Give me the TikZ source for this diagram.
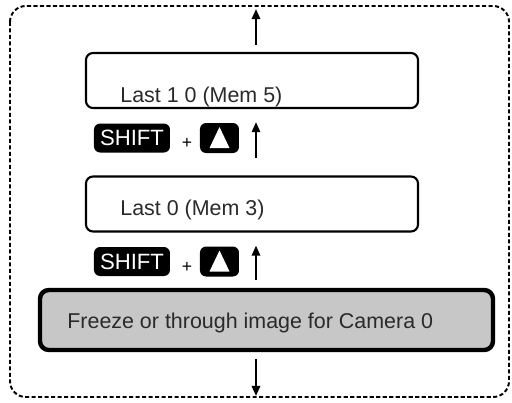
\documentclass[tikz,border=0pt]{standalone}
\usepackage{fontspec}
\setmainfont{Liberation Sans}
\usetikzlibrary{arrows.meta}
\definecolor{txtGray}{HTML}{2A2A2A}

\begin{document}
\begin{tikzpicture}[
  x=0.02cm, y=-0.02cm,
  memo/.style={draw, rounded corners=4pt, line width=1.2pt, minimum width=332*0.02cm, minimum height=55*0.02cm, inner sep=0pt},
  live/.style={draw, rounded corners=5pt, line width=2.5pt, fill=black!22, minimum width=453*0.02cm, minimum height=60*0.02cm, inner sep=0pt},
  lbl/.style={font=\fontsize{12.2}{14}\selectfont, text=txtGray, anchor=west, inner sep=0pt},
  shiftkey/.style={fill=black, rounded corners=3.5pt, minimum width=76*0.02cm, minimum height=29*0.02cm, inner sep=0pt, text=white, font=\fontsize{12.6}{14}\selectfont},
  upkey/.style={fill=black, rounded corners=3.5pt, minimum width=39*0.02cm, minimum height=30*0.02cm, inner sep=0pt},
  plus/.style={font=\fontsize{10}{11}\selectfont, inner sep=0pt},
  arr/.style={-{Triangle[length=5.8pt, width=4.8pt]}, line width=1.2pt}
]
\useasboundingbox (0,0) rectangle (512,403);
% outer dashed frame
\draw[line width=1.1pt, dash pattern=on 2.3pt off 1.4pt, rounded corners=9pt] (10,6) rectangle (509,397);
\coordinate (top) at (256,9);
\coordinate (bot) at (256,396);
% memory boxes
\node[memo] (last10) at (252,80.5) {};
\node[lbl] at (120,97) {Last 1 0 (Mem 5)};
\node[memo] (last0) at (252,204) {};
\node[lbl] at (120,210) {Last 0 (Mem 3)};
\node[live] (freeze) at (266.5,320) {};
\node[lbl] at (67,323) {Freeze or through image for Camera 0};
% keys
\node[shiftkey] (shift1) at (132,138) {SHIFT};
\node[plus] (plus1) at (187,143.5) {+};
\node[upkey] (up1) at (219.5,138) {};
\fill[white] ([shift={(-10,10)}]up1.center) -- ([shift={(10,10)}]up1.center) -- ([shift={(0,-11)}]up1.center) -- cycle;
\node[shiftkey] (shift2) at (132,261.5) {SHIFT};
\node[plus] (plus2) at (187,267) {+};
\node[upkey] (up2) at (219.5,261.5) {};
\fill[white] ([shift={(-10,10)}]up2.center) -- ([shift={(10,10)}]up2.center) -- ([shift={(0,-11)}]up2.center) -- cycle;
% arrows
\draw[arr, shorten <=4pt] (last10.north -| top) -- (top);
\draw[arr, shorten <=10pt, shorten >=7.4pt] (last0.north -| top) -- (last10.south -| top);
\draw[arr, shorten <=4.5pt, shorten >=7.4pt] (freeze.north -| top) -- (last0.south -| top);
\draw[arr, shorten <=4pt] (freeze.south -| top) -- (bot);
\end{tikzpicture}
\end{document}
